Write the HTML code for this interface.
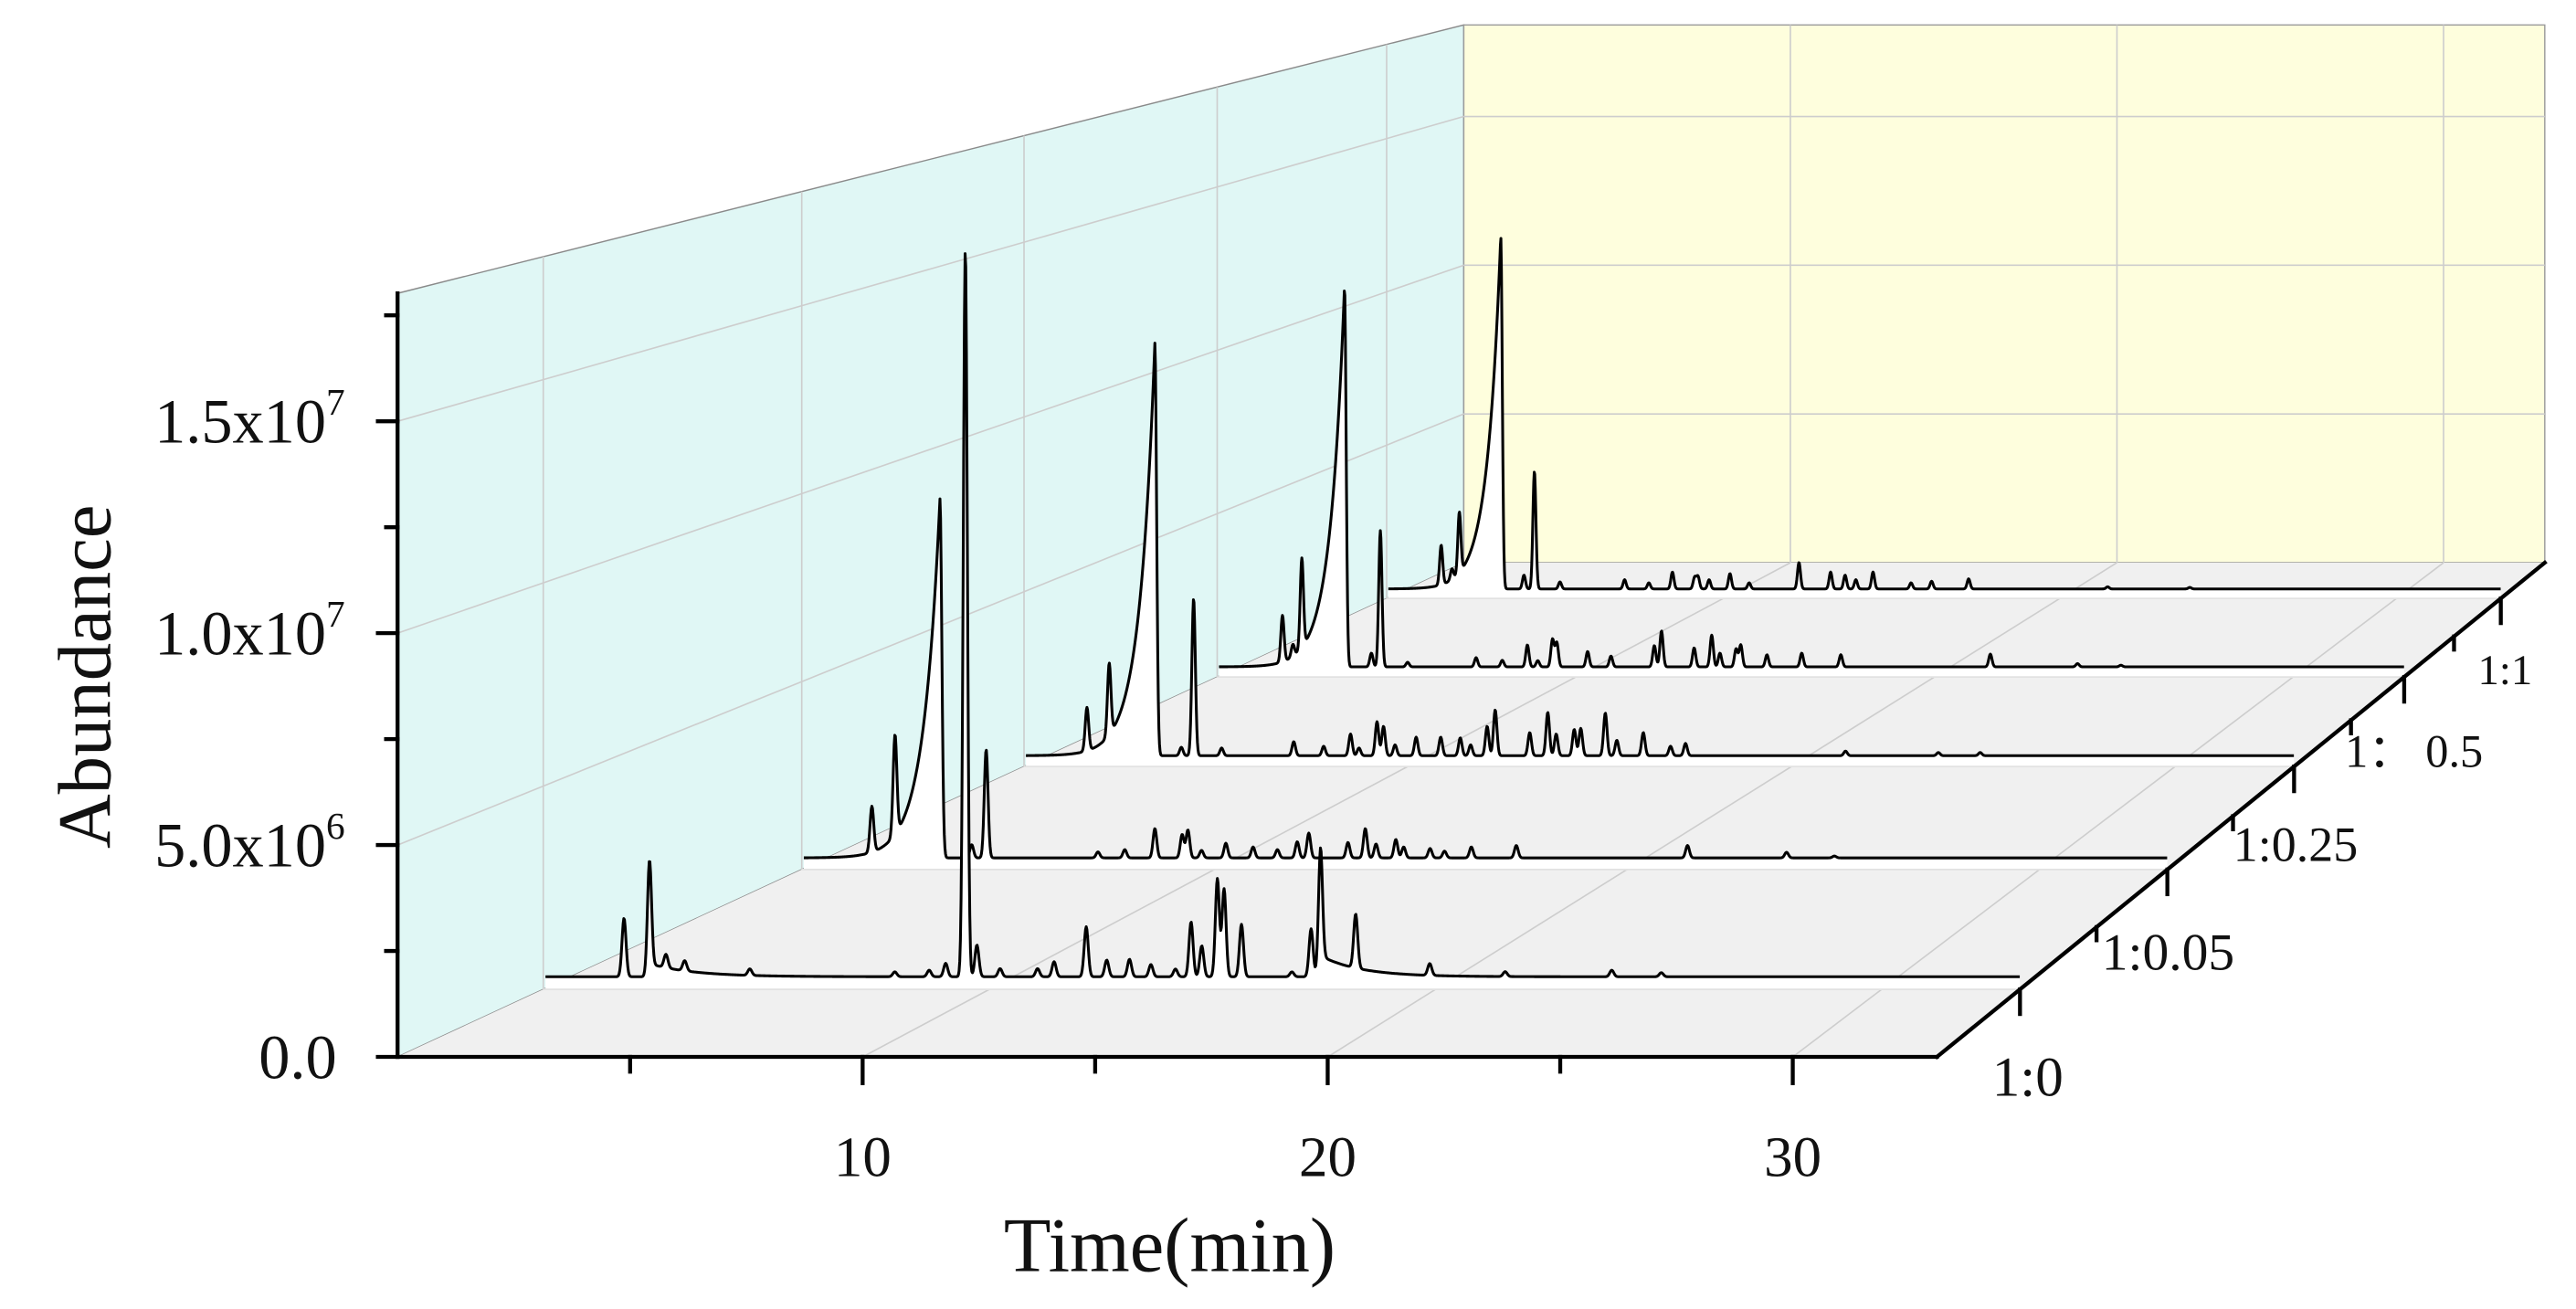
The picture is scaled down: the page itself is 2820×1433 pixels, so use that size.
<!DOCTYPE html>
<html><head><meta charset="utf-8"><title>Chromatograms</title>
<style>
html,body{margin:0;padding:0;background:#fff;}
svg{display:block;}
text{font-family:"Liberation Serif","Times New Roman",serif;fill:#111;}
</style></head>
<body>
<svg id="chart" width="2820" height="1433" viewBox="0 0 1568 797" preserveAspectRatio="none" xmlns="http://www.w3.org/2000/svg"></svg>
<script>
// ---------- data ----------
const seriesLabels = ["1:0","1:0.05","1:0.25","1\uFF1A 0.5","1:1"];
const xTickValues = [10,20,30];
const xMinorTicks = [5,15,25];
const yTickValues = [0,5,10,15];          // x10^6
const yTickLabels = ["0.0","5.0x10","1.0x10","1.5x10"];
const yTickExps = ["","6","7","7"];
const yMinorTicks = [2.5,7.5,12.5,17.5];

// peak retention times (min) and heights (x10^6) per series
const times0 = [1.81,2.38,2.75,3.17,4.63,7.88,8.65,9.02,9.46,9.72,10.24,11.08,11.45,12.17,12.63,13.14,13.62,14.17,14.52,14.76,15.11,15.26,15.65,16.78,17.21,17.42,18.21,19.87,21.56,23.95,25.06];
const heights0 = [1.44,2.75,0.33,0.25,0.16,0.12,0.16,0.33,17.9,0.78,0.2,0.2,0.37,1.23,0.41,0.43,0.3,0.19,1.35,0.76,2.41,2.16,1.29,0.12,1.18,2.75,1.33,0.29,0.12,0.16,0.1];
const times1 = [1.70,2.26,3.35,4.12,4.47,7.18,7.83,8.56,9.22,9.36,9.69,10.28,10.94,11.53,12.01,12.29,13.24,13.66,13.92,14.40,14.59,15.23,15.58,16.23,17.32,21.47,23.87,25.03];
const heights1 = [1.22,2.66,9.55,0.35,2.88,0.16,0.22,0.78,0.62,0.74,0.2,0.39,0.29,0.22,0.43,0.66,0.41,0.78,0.37,0.49,0.29,0.25,0.18,0.29,0.33,0.33,0.15,0.05];
const times2 = [1.64,2.22,3.41,4.10,4.42,5.15,7.03,7.81,8.51,8.73,9.20,9.37,9.67,10.22,10.86,11.37,11.64,12.07,12.28,13.18,13.65,13.87,14.34,14.51,15.15,15.45,16.14,16.85,17.24,21.41,23.83,24.92];
const heights2 = [1.24,2.05,11.8,0.24,4.49,0.22,0.40,0.27,0.62,0.22,0.97,0.84,0.31,0.53,0.53,0.51,0.31,0.84,1.31,0.66,1.24,0.62,0.75,0.78,1.22,0.44,0.66,0.27,0.35,0.13,0.09,0.09];
const times3 = [1.82,2.11,2.36,3.55,4.30,4.55,5.31,7.22,7.95,8.65,8.94,9.35,9.47,10.33,10.98,12.19,12.39,13.30,13.79,14.02,14.47,14.60,15.33,16.30,17.39,21.56,23.99,25.2];
const heights3 = [1.42,0.37,2.74,11.65,0.42,4.17,0.14,0.28,0.2,0.67,0.19,0.84,0.74,0.47,0.33,0.65,1.10,0.58,0.97,0.42,0.55,0.67,0.37,0.42,0.37,0.39,0.1,0.05];
const times4 = [1.62,1.94,2.16,3.39,4.08,4.39,5.15,7.07,7.79,8.49,9.15,9.25,9.58,10.20,10.77,12.25,13.19,13.62,13.94,14.45,15.58,16.19,17.29,21.42,23.86];
const heights4 = [1.29,0.35,1.98,11.5,0.45,3.83,0.23,0.30,0.2,0.55,0.37,0.40,0.30,0.5,0.2,0.86,0.55,0.45,0.30,0.55,0.2,0.25,0.33,0.07,0.05];
const allTimes = [times0,times1,times2,times3,times4];
const allHeights = [heights0,heights1,heights2,heights3,heights4];
// fronting width (min) of the main solvent peak per series
const leadWidth = [0,0.4,0.4,0.4,0.4];
// broad tailing components (1:0 series)
const tailTimes0 = [2.45,17.45];
const tailHeights0 = [0.3,0.5];
const tailWidths0 = [1.0,0.9];

// ---------- geometry ----------
const TMAX = 33.1, RATIO = 0.702;
const FX0=242, FX1=1179, BX0=891, BX1=1549, FY=643.5, BY=342.6, TOPF=178.6, TOPB=15.2;
const PX_PER_M = 25.8; // px per 1e6 at front
function depthOf(u){ const z = 1 + (1/RATIO - 1)*u; return (1 - 1/z)/(1 - RATIO); }
function xl(d){ return FX0 + (BX0-FX0)*d; }
function xr(d){ return FX1 + (BX1-FX1)*d; }
function yfl(d){ return FY + (BY-FY)*d; }
function sc(d){ return (xr(d)-xl(d))/(FX1-FX0); }
function xAt(t,d){ return xl(d) + (t/TMAX)*(xr(d)-xl(d)); }
function yAt(a,d){ return yfl(d) - 8*sc(d) - a*PX_PER_M*sc(d); }
function catDepth(k){ return depthOf((k+0.5)/seriesLabels.length); }

const NS="http://www.w3.org/2000/svg";
const svg=document.getElementById('chart');
function mk(tag, attrs, parent){ const e=document.createElementNS(NS,tag); for(const k in attrs) e.setAttribute(k,attrs[k]); (parent||svg).appendChild(e); return e; }

// ---------- walls ----------
const leftWall = mk('polygon',{points:`${FX0},${FY} ${FX0},${TOPF} ${BX0},${TOPB} ${BX0},${BY}`,fill:'#e0f7f5',stroke:'#8a8a8a','stroke-width':0.8});


const backWall = mk('polygon',{points:`${BX0},${TOPB} ${BX1},${TOPB} ${BX1},${BY} ${BX0},${BY}`,fill:'#fefedd',stroke:'#9a9a9a','stroke-width':0.8});


const floor = mk('polygon',{points:`${FX0},${FY} ${FX1},${FY} ${BX1},${BY} ${BX0},${BY}`,fill:'#f0f0f0',stroke:'none'});



const grid = mk('g',{stroke:'#cdcdcd','stroke-width':0.9,fill:'none'});


yTickValues.slice(1).forEach(v=>{
  const yF = FY - v*PX_PER_M, yB = BY - v*PX_PER_M*RATIO;
  mk('line',{x1:FX0,y1:yF,x2:BX0,y2:yB},grid);
  mk('line',{x1:BX0,y1:yB,x2:BX1,y2:yB},grid);
});
xTickValues.forEach(t=>{
  const xb = xAt(t,1);
  mk('line',{x1:xb,y1:TOPB,x2:xb,y2:BY},grid);
  mk('line',{x1:xAt(t,0),y1:FY,x2:xb,y2:BY},grid);
});
seriesLabels.forEach((s,k)=>{
  const d=catDepth(k), x=xl(d);
  mk('line',{x1:x,y1:yfl(d),x2:x,y2:TOPF+(TOPB-TOPF)*d},grid);
});

// ---------- series ----------
function signal(t,k){
  const ts=allTimes[k], hs=allHeights[k];
  let maxI=0; hs.forEach((h,i)=>{ if(h>hs[maxI]) maxI=i; });
  let y=0;
  for(let i=0;i<ts.length;i++){
    const dt=t-ts[i];
    if(i===maxI && leadWidth[k]>0 && dt<0){ y+=hs[i]*Math.exp(dt/leadWidth[k]); }
    else { y+=hs[i]*Math.exp(-0.5*(dt/0.045)*(dt/0.045)); }
  }
  if(k===0){
    for(let j=0;j<tailTimes0.length;j++){
      const dt=t-tailTimes0[j];
      if(dt>0) y+=tailHeights0[j]*Math.exp(-dt/tailWidths0[j]);
      else y+=tailHeights0[j]*Math.exp(-0.5*(dt/0.05)*(dt/0.05));
    }
  }
  return y;
}
for(let k=seriesLabels.length-1;k>=0;k--){
  const d=catDepth(k);
  const g=mk('g',{});
  
  
  let pts=[];
  for(let t=0.05;t<=TMAX+1e-9;t+=0.015){ pts.push(xAt(t,d).toFixed(2)+','+yAt(signal(t,k),d).toFixed(2)); }
  const fy=yfl(d);
  const fillPts = pts.join(' ')+` ${xr(d)},${fy} ${xAt(0.05,d)},${fy}`;
  const f=mk('polygon',{points:fillPts,fill:'#ffffff',stroke:'none'},g);
  
  
  const sep=mk('line',{x1:xl(d),y1:fy,x2:xr(d),y2:fy,stroke:'#e2e2e2','stroke-width':1},g);
  
  
  const l=mk('polyline',{points:pts.join(' '),fill:'none',stroke:'#000','stroke-width':1.7,'stroke-linejoin':'round'},g);
  
  
}

// ---------- axes ----------
const axes=mk('g',{stroke:'#000','stroke-width':2.4,fill:'none','stroke-linecap':'square'});


mk('line',{x1:FX0,y1:TOPF,x2:FX0,y2:FY},axes);
mk('line',{x1:FX0,y1:FY,x2:FX1,y2:FY},axes);
mk('line',{x1:FX1,y1:FY,x2:BX1,y2:BY},axes);
yTickValues.forEach(v=>{ const y=FY-v*PX_PER_M; mk('line',{x1:FX0-12,y1:y,x2:FX0,y2:y},axes); });
yMinorTicks.forEach(v=>{ const y=FY-v*PX_PER_M; mk('line',{x1:FX0-7,y1:y,x2:FX0,y2:y},axes); });
xTickValues.forEach(t=>{ const x=xAt(t,0); mk('line',{x1:x,y1:FY,x2:x,y2:FY+16},axes); });
xMinorTicks.forEach(t=>{ const x=xAt(t,0); mk('line',{x1:x,y1:FY,x2:x,y2:FY+9},axes); });
seriesLabels.forEach((s,k)=>{
  const d=catDepth(k), x=xr(d), y=yfl(d);
  mk('line',{x1:x,y1:y,x2:x,y2:y+15},axes);
  const d2=depthOf((k+1)/seriesLabels.length);
  if(k<seriesLabels.length-1) mk('line',{x1:xr(d2),y1:yfl(d2),x2:xr(d2),y2:yfl(d2)+8},axes);
});

yTickValues.forEach((v,i)=>{
  const y=FY-v*PX_PER_M+13;
  const t=mk('text',{x:yTickExps[i]?210:205,y:y,'text-anchor':'end','font-size':38});
  
  
  t.textContent=yTickLabels[i];
  if(yTickExps[i]){ const sp=mk('tspan',{dy:-17,'font-size':23},t); sp.textContent=yTickExps[i]; }
});
xTickValues.forEach(v=>{
  const t=mk('text',{x:xAt(v,0),y:716,'text-anchor':'middle','font-size':35});
  
  
  t.textContent=String(v);
});
const depthFont=[34,32,30,28,26];
const depthDx=[-17,-40,-37,-36,-14];
seriesLabels.forEach((s,k)=>{
  const d=catDepth(k);
  const t=mk('text',{x:xr(d)+depthDx[k],y:yfl(d)+67-16*d,'font-size':depthFont[k]});
  
  
  t.textContent=s;
});
const yt=mk('text',{x:0,y:0,'text-anchor':'middle','font-size':46,transform:'translate(67,412) rotate(-90)'});


yt.textContent='Abundance';
const xt=mk('text',{x:712,y:774,'text-anchor':'middle','font-size':47});


xt.textContent='Time(min)';
</script>
</body></html>
